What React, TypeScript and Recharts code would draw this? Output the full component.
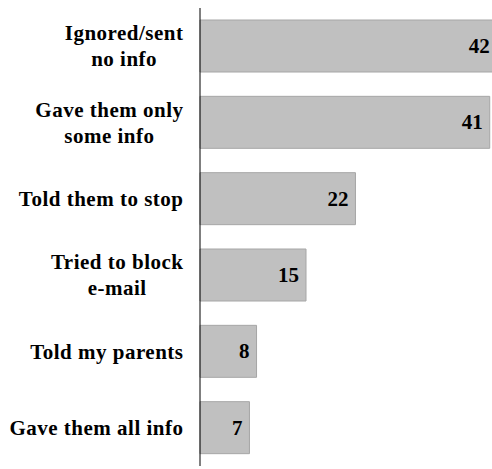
import { BarChart, Bar, XAxis, YAxis, LabelList } from 'recharts';

// Categories, top to bottom ("\n" marks the line break in the axis label)
const categories = [
  'Ignored/sent\nno info',
  'Gave them only\nsome info',
  'Told them to stop',
  'Tried to block\ne-mail',
  'Told my parents',
  'Gave them all info',
];

const values = [42, 41, 22, 15, 8, 7];

const data = categories.map((name, i) => ({ name, value: values[i] }));

const FONT = '"Liberation Serif", "DejaVu Serif", serif';
const FONT_SIZE = 21;
const SPACING = 0.5;

let ctx: CanvasRenderingContext2D | null = null;
function measure(text: string) {
  if (!ctx) ctx = document.createElement('canvas').getContext('2d');
  const w = ctx ? (ctx.font = `bold ${FONT_SIZE}px ${FONT}`, ctx.measureText(text).width) : text.length * FONT_SIZE * 0.5;
  return w + SPACING * (text.length - 1);
}

function CategoryTick(props: any) {
  const { x, y, payload } = props;
  const lines: string[] = String(payload.value).split('\n');
  const lineHeight = 26;
  const startY = y - ((lines.length - 1) * lineHeight) / 2;
  // lines are centred on each other, block right-aligned to the axis
  const blockW = Math.max(...lines.map(measure));
  const cx = x - blockW / 2;
  return (
    <text
      dominantBaseline="central"
      style={{ fontFamily: FONT, fontWeight: 'bold', fontSize: FONT_SIZE, letterSpacing: SPACING }}
      fill="#000"
    >
      {lines.map((line, i) => (
        <tspan key={i} x={cx - measure(line) / 2} y={startY + i * lineHeight}>
          {line}
        </tspan>
      ))}
    </text>
  );
}

function ValueLabel(props: any) {
  const { x, y, width, height, value } = props;
  return (
    <text
      x={x + width - 7}
      y={y + height / 2}
      textAnchor="end"
      dominantBaseline="central"
      style={{ fontFamily: FONT, fontWeight: 'bold', fontSize: FONT_SIZE }}
      fill="#000"
    >
      {value}
    </text>
  );
}

export default function App() {
  return (
    <div
      style={{
        position: 'absolute',
        left: 0,
        top: 0,
        width: 492,
        height: 469,
        overflow: 'hidden',
        background: '#fff',
      }}
    >
      <BarChart
        width={518}
        height={469}
        data={data}
        layout="vertical"
        margin={{ top: 8, right: 0, bottom: 3, left: 0 }}
      >
        <XAxis type="number" domain={[0, 45]} hide />
        <YAxis
          type="category"
          dataKey="name"
          width={200}
          axisLine={{ stroke: '#000', strokeWidth: 1 }}
          tickLine={false}
          tickMargin={11}
          tick={<CategoryTick />}
        />
        <Bar
          dataKey="value"
          fill="#c0c0c0"
          stroke="#a6a6a6"
          strokeWidth={1}
          barSize={52}
          isAnimationActive={false}
        >
          <LabelList dataKey="value" content={<ValueLabel />} />
        </Bar>
      </BarChart>
    </div>
  );
}
